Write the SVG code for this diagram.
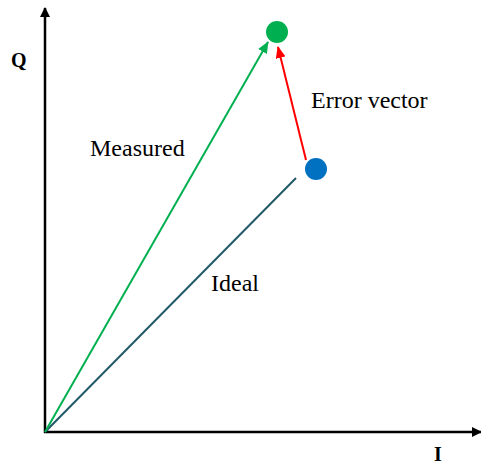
<svg xmlns="http://www.w3.org/2000/svg" width="481" height="465" viewBox="0 0 481 465">
<style>
text{font-family:"Liberation Serif","DejaVu Serif",serif;font-size:24px;fill:#000}
.b{font-weight:bold;font-size:20px}
</style>
<defs>
<marker id="ak" markerWidth="10" markerHeight="10" refX="9" refY="5" orient="auto" markerUnits="userSpaceOnUse"><path d="M0,0 L10,5 L0,10 z" fill="#000"/></marker>
<marker id="ag" markerWidth="12" markerHeight="10" refX="11" refY="5" orient="auto" markerUnits="userSpaceOnUse"><path d="M0,0 L12,5 L0,10 z" fill="#00B050"/></marker>
<marker id="ar" markerWidth="12" markerHeight="10" refX="11" refY="5" orient="auto" markerUnits="userSpaceOnUse"><path d="M0,0 L12,5 L0,10 z" fill="#FF0000"/></marker>
</defs>
<g id="connectors">
<line x1="45" y1="433" x2="45" y2="8" stroke="#000" stroke-width="2.5" marker-end="url(#ak)"/>
<line x1="44" y1="432" x2="481" y2="432" stroke="#000" stroke-width="2.5" marker-end="url(#ak)"/>
<line x1="45" y1="432" x2="296" y2="178" stroke="#215968" stroke-width="2"/>
<line x1="45" y1="432" x2="268" y2="42" stroke="#00B050" stroke-width="2" marker-end="url(#ag)"/>
<line x1="306" y1="160" x2="278" y2="47" stroke="#FF0000" stroke-width="2" marker-end="url(#ar)"/>
</g>
<g id="measured-point"><circle cx="277" cy="32" r="11" fill="#00B050"/></g>
<g id="ideal-point"><circle cx="316" cy="169" r="11" fill="#0070C0"/></g>
<g id="labels">
<text x="11" y="67" class="b">Q</text>
<text x="434" y="461" class="b">I</text>
<text x="90" y="156">Measured</text>
<text x="311" y="108">Error vector</text>
<text x="211" y="291">Ideal</text>
</g>
</svg>
